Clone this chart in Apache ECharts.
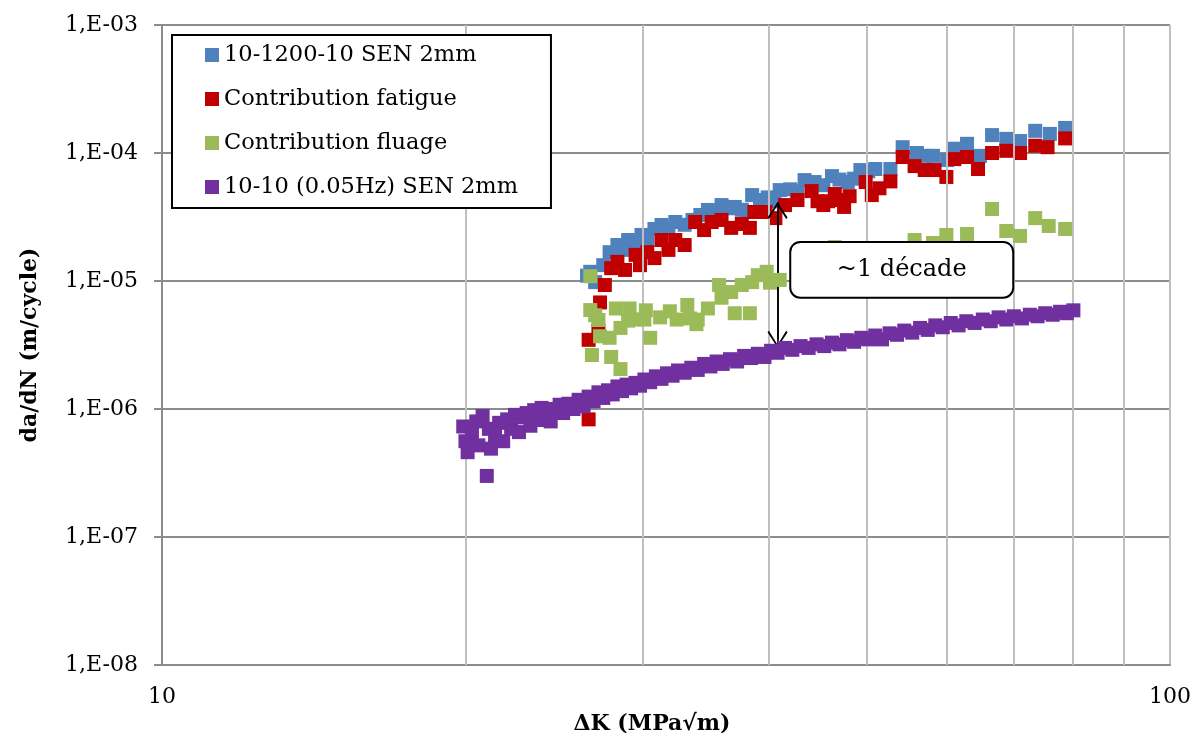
<!DOCTYPE html>
<html>
<head>
<meta charset="utf-8">
<script src="https://cdn.jsdelivr.net/npm/echarts@6/dist/echarts.min.js"></script>
<style>
html,body{margin:0;padding:0;background:#fff;}
#c{width:1193px;height:733px;}
</style>
</head>
<body>
<div id="c"></div>
<script>
// ---- data (ΔK in MPa√m, da/dN in m/cycle) ----
const seriesNames = ['10-1200-10 SEN 2mm', 'Contribution fatigue', 'Contribution fluage', '10-10 (0.05Hz) SEN 2mm'];

const creepFatigue = [
  [26.4,1.1e-5],[26.6,1.18e-5],[26.9,9.8e-6],[27.4,1.33e-5],[27.8,1.68e-5],[28.3,1.91e-5],[28.6,1.75e-5],
  [29.0,2.09e-5],[29.5,1.95e-5],[29.9,2.29e-5],[30.3,2.1e-5],[30.8,2.55e-5],[31.3,2.74e-5],[31.8,2.6e-5],
  [32.3,2.89e-5],[33.0,2.75e-5],[33.6,3.0e-5],[34.2,3.28e-5],[34.8,3.59e-5],[35.4,3.4e-5],[35.9,3.92e-5],
  [36.5,3.7e-5],[37.0,3.79e-5],[37.6,3.6e-5],[38.1,3.46e-5],[38.5,4.69e-5],[39.2,4.29e-5],[39.9,4.5e-5],
  [40.5,4.2e-5],[41.0,5.13e-5],[42.0,5.2e-5],[42.7,5.0e-5],[43.4,6.14e-5],[44.4,5.93e-5],[45.3,5.6e-5],
  [46.2,6.6e-5],[47.0,6.2e-5],[47.9,5.93e-5],[48.6,6.3e-5],[49.3,7.36e-5],[50.2,7.2e-5],[51.0,7.5e-5],
  [52.8,7.5e-5],[54.3,1.11e-4],[56.1,1.0e-4],[57.3,9.5e-5],[58.2,9.5e-5],[60.1,8.8e-5],[61.1,1.08e-4],
  [62.9,1.18e-4],[64.8,9.5e-5],[66.6,1.38e-4],[68.8,1.29e-4],[71.0,1.24e-4],[73.5,1.49e-4],[76.0,1.41e-4],
  [78.7,1.57e-4]
];

const fatigueContribution = [
  [26.5,3.47e-6],[26.5,8.3e-7],[27.2,6.8e-6],[27.1,4.1e-6],[27.5,9.3e-6],[27.9,1.26e-5],[28.3,1.41e-5],
  [28.8,1.22e-5],[29.5,1.6e-5],[29.8,1.33e-5],[30.3,1.68e-5],[30.8,1.51e-5],[31.3,2.09e-5],[31.8,1.75e-5],
  [32.3,2.09e-5],[33.0,1.91e-5],[33.8,2.89e-5],[34.5,2.5e-5],[35.1,2.89e-5],[35.9,3.0e-5],[36.7,2.6e-5],
  [37.6,2.79e-5],[38.3,2.6e-5],[38.7,3.46e-5],[39.7,3.46e-5],[40.6,3.1e-5],[41.5,3.92e-5],[42.7,4.29e-5],
  [44.1,5.04e-5],[44.7,4.2e-5],[45.3,3.92e-5],[45.8,4.2e-5],[46.5,4.78e-5],[47.2,4.29e-5],[47.5,3.79e-5],
  [48.1,4.6e-5],[49.9,5.93e-5],[50.6,4.69e-5],[51.5,5.3e-5],[52.8,6.0e-5],[54.3,9.3e-5],[55.8,7.9e-5],
  [57.1,7.36e-5],[58.4,7.36e-5],[60.0,6.5e-5],[61.1,8.96e-5],[62.9,9.3e-5],[64.5,7.5e-5],[66.6,1.0e-4],
  [68.8,1.04e-4],[71.0,1.0e-4],[73.5,1.14e-4],[75.6,1.11e-4],[78.7,1.3e-4]
];

const creepContribution = [
  [26.6,1.09e-5],[26.6,5.93e-6],[26.9,5.4e-6],[27.1,4.96e-6],[26.7,2.64e-6],[27.2,3.7e-6],[27.8,3.6e-6],
  [27.9,2.55e-6],[28.5,2.05e-6],[28.2,6.1e-6],[29.1,6.1e-6],[28.5,4.3e-6],[29.0,4.9e-6],[29.5,5.0e-6],
  [30.2,5.9e-6],[30.1,5.0e-6],[30.5,3.6e-6],[31.2,5.2e-6],[31.9,5.8e-6],[32.4,5.0e-6],[33.2,6.5e-6],
  [33.4,5.1e-6],[34.0,5.0e-6],[33.9,4.6e-6],[34.8,6.1e-6],[35.7,9.3e-6],[35.9,7.4e-6],[36.7,8.2e-6],
  [37.0,5.6e-6],[38.3,5.6e-6],[37.6,9.3e-6],[38.5,9.8e-6],[39.0,1.11e-5],[39.8,1.18e-5],[40.1,9.7e-6],
  [41.0,1.02e-5],[43.0,1.1e-5],[44.4,1.2e-5],[46.5,1.84e-5],[48.1,1.33e-5],[52.8,1.6e-5],
  [55.8,2.09e-5],[58.2,1.98e-5],[60.0,2.29e-5],[62.9,2.33e-5],[66.6,3.65e-5],[68.8,2.46e-5],
  [71.0,2.25e-5],[73.5,3.1e-5],[75.8,2.69e-5],[78.7,2.55e-5]
];

const fatigueOnly = [
  [19.9,7.3e-7],[20.0,5.6e-7],[20.1,4.6e-7],[20.3,6.5e-7],[20.5,8.0e-7],[20.6,5.2e-7],[20.8,8.8e-7],
  [21.0,3.0e-7],[21.1,7.0e-7],[21.2,4.9e-7],[21.4,6.2e-7],[21.6,7.8e-7],[21.8,5.6e-7],[22.0,8.3e-7],
  [22.2,7.0e-7],[22.4,9.0e-7],[22.6,6.6e-7],[22.8,8.6e-7],[23.0,9.3e-7],[23.2,7.4e-7],[23.4,9.8e-7],
  [23.6,8.2e-7],[23.8,1.02e-6],[24.0,9.0e-7],[24.3,8.0e-7],[24.5,1.0e-6],[24.8,1.08e-6],[25.0,9.3e-7],
  [25.3,1.1e-6],[25.6,1.0e-6],[25.9,1.18e-6],[26.2,1.05e-6],[26.5,1.25e-6],[26.8,1.15e-6],[27.1,1.35e-6],
  [27.4,1.22e-6],[27.7,1.4e-6],[28.0,1.3e-6],[28.3,1.5e-6],[28.6,1.38e-6],[28.9,1.55e-6],[29.2,1.45e-6],
  [29.5,1.6e-6],[29.8,1.52e-6],[30.1,1.7e-6],[30.5,1.62e-6],[30.9,1.8e-6],[31.3,1.72e-6],[31.7,1.9e-6],
  [32.1,1.82e-6],[32.5,2.0e-6],[33.0,1.92e-6],[33.5,2.1e-6],[34.0,2.02e-6],[34.5,2.25e-6],[35.0,2.15e-6],
  [35.5,2.35e-6],[36.0,2.25e-6],[36.6,2.45e-6],[37.2,2.35e-6],[37.8,2.6e-6],[38.4,2.5e-6],[39.0,2.7e-6],
  [39.6,2.55e-6],[40.2,2.85e-6],[40.8,2.75e-6],[41.5,3.0e-6],[42.2,2.9e-6],[43.0,3.1e-6],[43.8,3.0e-6],
  [44.6,3.2e-6],[45.4,3.1e-6],[46.2,3.3e-6],[47.0,3.2e-6],[47.8,3.45e-6],[48.6,3.35e-6],[49.4,3.6e-6],
  [50.2,3.5e-6],[51.0,3.75e-6],[51.8,3.5e-6],[52.7,3.9e-6],[53.6,3.8e-6],[54.5,4.1e-6],[55.5,3.95e-6],
  [56.5,4.3e-6],[57.5,4.15e-6],[58.5,4.5e-6],[59.5,4.35e-6],[60.6,4.7e-6],[61.7,4.5e-6],[62.8,4.85e-6],
  [64.0,4.7e-6],[65.2,5.0e-6],[66.4,4.85e-6],[67.6,5.2e-6],[68.8,5.0e-6],[70.0,5.3e-6],[71.3,5.1e-6],
  [72.6,5.45e-6],[73.9,5.3e-6],[75.2,5.6e-6],[76.5,5.45e-6],[77.8,5.75e-6],[79.0,5.6e-6],[80.2,5.9e-6]
];

// axis definitions / tick labels
const xRange = [10, 100];
const yRange = [1e-8, 1e-3];
const xMinorGrid = [20, 30, 40, 50, 60, 70, 80, 90];
const yMinorMultipliers = [2, 3, 4, 5, 6, 7, 8, 9];
const yDecades = [-8, -7, -6, -5, -4];

// annotation: double arrow and text box (data coordinates)
const arrowX = 40.8;
const arrowTips = [4.14e-5, 3.0e-6];
const arrowHeadBases = [3.55e-5, 3.5e-6];
const noteText = '~1 décade';
const noteBox = { x0: 42.0, x1: 69.9, yTop: 2.02e-5, yBottom: 7.4e-6 };

const colors = ['#4F81BD', '#C00000', '#9BBB59', '#7030A0'];
const FONT = 'DejaVu Serif';

const yMinorValues = [];
yDecades.forEach(function (e) {
  yMinorMultipliers.forEach(function (m) { yMinorValues.push(m * Math.pow(10, e)); });
});

function yLabel(v) {
  const e = Math.round(Math.log10(v));
  return '1,E' + (e < 0 ? '-' : '+') + String(Math.abs(e)).padStart(2, '0');
}

const chevron = 'path://M10,0 L20,15.5 L18.6,17 L10,3.2 L1.4,17 L0,15.5 Z';

const chart = echarts.init(document.getElementById('c'), null, { renderer: 'canvas' });

const dataSeries = [creepFatigue, fatigueContribution, creepContribution, fatigueOnly].map(function (d, i) {
  return {
    name: seriesNames[i],
    type: 'scatter',
    data: d,
    symbol: 'rect',
    symbolSize: 14,
    z: 3 + i,
    itemStyle: { color: colors[i], opacity: 1 },
    emphasis: { disabled: true }
  };
});

const option = {
  animation: false,
  backgroundColor: '#ffffff',
  textStyle: { fontFamily: FONT },
  grid: { left: 162, right: 23, top: 25, bottom: 68, containLabel: false, outerBoundsMode: 'none' },
  legend: {
    data: seriesNames,
    orient: 'vertical',
    left: 172,
    top: 35,
    backgroundColor: '#ffffff',
    borderColor: '#000000',
    borderWidth: 2,
    borderRadius: 0,
    padding: [5, 33, 6, 33],
    itemWidth: 14,
    itemHeight: 14,
    itemGap: 14,
    icon: 'rect',
    textStyle: { fontFamily: FONT, fontSize: 22.5, color: '#000', lineHeight: 30 },
    z: 20
  },
  xAxis: {
    type: 'log',
    logBase: 10,
    min: xRange[0],
    max: xRange[1],
    name: 'ΔK (MPa√m)',
    nameLocation: 'middle',
    nameGap: 37,
    nameTextStyle: { fontFamily: FONT, fontSize: 22, fontWeight: 'bold', color: '#000', padding: [0, 28, 0, 0] },
    axisLine: { show: true, lineStyle: { color: '#8c8c8c', width: 2 } },
    axisTick: { show: false },
    axisLabel: { fontFamily: FONT, fontSize: 22, color: '#000', margin: 21 },
    splitLine: { show: true, lineStyle: { color: '#bfbfbf', width: 2 } },
    minorTick: { show: false },
    minorSplitLine: { show: false }
  },
  yAxis: {
    type: 'log',
    logBase: 10,
    min: yRange[0],
    max: yRange[1],
    name: 'da/dN (m/cycle)',
    nameLocation: 'middle',
    nameGap: 121,
    nameTextStyle: { fontFamily: FONT, fontSize: 22, fontWeight: 'bold', color: '#000' },
    axisLine: { show: true, lineStyle: { color: '#8c8c8c', width: 2 } },
    axisTick: { show: true, length: 8, lineStyle: { color: '#8c8c8c', width: 2 } },
    axisLabel: { fontFamily: FONT, fontSize: 22, color: '#000', margin: 24, formatter: yLabel },
    splitLine: { show: true, lineStyle: { color: '#8c8c8c', width: 2 } }
  },
  series: [
    {
      name: '_grid',
      type: 'scatter',
      data: [[xRange[0], yRange[0]]],
      symbolSize: 0,
      silent: true,
      z: 1,
      markLine: {
        silent: true,
        symbol: ['none', 'none'],
        label: { show: false },
        animation: false,
        lineStyle: { color: '#c3c3c3', width: 1.6, type: 'solid' },
        emphasis: { disabled: true },
        data: yMinorValues.map(function (v) { return { yAxis: v }; })
          .concat(xMinorGrid.map(function (v) { return { xAxis: v, lineStyle: { color: '#bfbfbf', width: 2 } }; }))
      }
    }
  ].concat(dataSeries).concat([
    {
      name: '_arrow',
      type: 'scatter',
      data: [],
      silent: true,
      z: 15,
      markLine: {
        silent: true,
        animation: false,
        label: { show: false },
        emphasis: { disabled: true },
        lineStyle: { color: '#000', width: 1.6, type: 'solid' },
        data: [
          [{ coord: [arrowX, arrowTips[0]], symbol: 'none' }, { coord: [arrowX, arrowTips[1]], symbol: 'none' }],
          [{ coord: [arrowX, arrowHeadBases[0]], symbol: chevron, symbolSize: [20, 17] },
           { coord: [arrowX, arrowHeadBases[1]], symbol: chevron, symbolSize: [20, 17] }]
        ]
      }
    }
  ])
};

chart.setOption(option);

const pTL = chart.convertToPixel({ gridIndex: 0 }, [noteBox.x0, noteBox.yTop]);
const pBR = chart.convertToPixel({ gridIndex: 0 }, [noteBox.x1, noteBox.yBottom]);
chart.setOption({
  graphic: [
    {
      type: 'rect',
      z: 30,
      shape: { x: pTL[0], y: pTL[1], width: pBR[0] - pTL[0], height: pBR[1] - pTL[1], r: 10 },
      style: { fill: '#ffffff', stroke: '#000000', lineWidth: 2 }
    },
    {
      type: 'text',
      z: 31,
      x: (pTL[0] + pBR[0]) / 2,
      y: (pTL[1] + pBR[1]) / 2,
      style: {
        text: noteText, fill: '#000', font: '24px "DejaVu Serif"',
        align: 'center', verticalAlign: 'middle'
      }
    }
  ]
});
</script>
</body>
</html>
